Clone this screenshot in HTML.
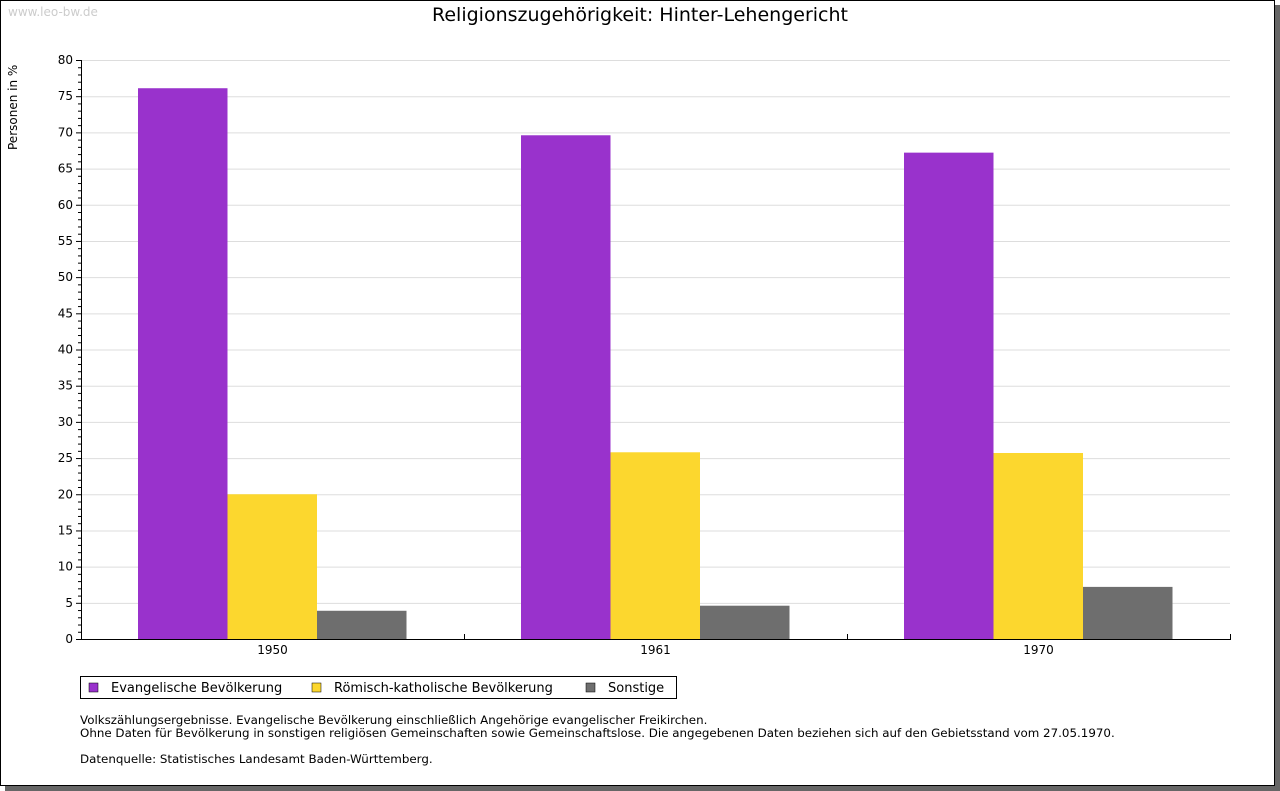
<!DOCTYPE html>
<html><head><meta charset="utf-8"><style>
body{margin:0;width:1280px;height:791px;overflow:hidden;background:#fff;font-family:"DejaVu Sans","Liberation Sans",sans-serif}
</style></head><body>
<svg width="1280" height="791" style="position:absolute;left:0;top:0">
<rect x="5" y="5" width="1275" height="786" fill="#666"/>
<rect x="0.5" y="0.5" width="1274" height="785" fill="#fff" stroke="#000"/>
<text x="8" y="16" font-size="12" fill="#ccc">www.leo-bw.de</text>
<text x="640" y="21" font-size="19" text-anchor="middle">Religionszugehörigkeit: Hinter-Lehengericht</text>
<text transform="translate(17,150) rotate(-90)" font-size="12">Personen in %</text>
<g id="grid"></g><g id="bars"></g><g id="axes"></g>
<g>
<rect x="80.5" y="676.5" width="596" height="22" fill="#fff" stroke="#000"/>
<rect x="89" y="683" width="9" height="9" fill="#9932cc" stroke="#000" stroke-width="0.5"/>
<text x="111" y="692" font-size="13">Evangelische Bevölkerung</text>
<rect x="312" y="683" width="9" height="9" fill="#fcd72e" stroke="#000" stroke-width="0.5"/>
<text x="334" y="692" font-size="13">Römisch-katholische Bevölkerung</text>
<rect x="586" y="683" width="9" height="9" fill="#6e6e6e" stroke="#000" stroke-width="0.5"/>
<text x="608" y="692" font-size="13">Sonstige</text>
</g>
<g font-size="11.86">
<text x="80" y="724">Volkszählungsergebnisse. Evangelische Bevölkerung einschließlich Angehörige evangelischer Freikirchen.</text>
<text x="80" y="737">Ohne Daten für Bevölkerung in sonstigen religiösen Gemeinschaften sowie Gemeinschaftslose. Die angegebenen Daten beziehen sich auf den Gebietsstand vom 27.05.1970.</text>
<text x="80" y="763">Datenquelle: Statistisches Landesamt Baden-Württemberg.</text>
</g>
</svg>
<script>
const categories=["1950","1961","1970"];
const evangelisch=[76.1,69.6,67.2];
const katholisch=[20.0,25.8,25.7];
const sonstige=[3.9,4.6,7.2];
const yTicks=[0,5,10,15,20,25,30,35,40,45,50,55,60,65,70,75,80];
const NS="http://www.w3.org/2000/svg";
const X0=81,X1=1230,Y0=639,Y1=60,YMAX=80;
const y=v=>Y0-(v/YMAX)*(Y0-Y1);
const gw=(X1-X0)/categories.length;
function mk(t,a,p){const e=document.createElementNS(NS,t);for(const k in a)e.setAttribute(k,a[k]);p.appendChild(e);return e;}
const grid=document.getElementById('grid'),bars=document.getElementById('bars'),axes=document.getElementById('axes');
yTicks.forEach(v=>{
 if(v>0){const l=mk('line',{x1:X0,x2:X1,y1:y(v)+.5,y2:y(v)+.5,stroke:'#ddd'},grid);
 
 }
 const t=mk('text',{x:X0-8,y:y(v)+4,'font-size':12,'text-anchor':'end'},axes);t.textContent=v;
 
 
 mk('line',{x1:X0-5,x2:X0,y1:y(v)+.5,y2:y(v)+.5,stroke:'#000'},axes);
});
for(let v=1;v<YMAX;v++){if(v%5)mk('line',{x1:X0-3,x2:X0,y1:y(v)+.5,y2:y(v)+.5,stroke:'#000'},axes);}
mk('line',{x1:X0+.5,x2:X0+.5,y1:Y1,y2:Y0,stroke:'#000'},axes);
mk('line',{x1:X0,x2:X1,y1:Y0+.5,y2:Y0+.5,stroke:'#000'},axes);
for(let i=1;i<=categories.length;i++){const x=Math.round(X0+gw*i)+.5;mk('line',{x1:x,x2:x,y1:Y0-5,y2:Y0+1,stroke:'#000'},axes);}
const series=[[evangelisch,'#9932cc','evangelisch'],[katholisch,'#fcd72e','katholisch'],[sonstige,'#6e6e6e','sonstige']];
const bw=89.5,off=57;
categories.forEach((c,i)=>{
 const gx=X0+gw*i;
 series.forEach((s,j)=>{
  const r=mk('rect',{x:gx+off+bw*j,y:y(s[0][i]),width:bw,height:Y0-y(s[0][i]),fill:s[1]},bars);
  
  
 });
 const t=mk('text',{x:gx+gw/2,y:Y0+15,'font-size':12,'text-anchor':'middle'},axes);t.textContent=c;
 
 
});
</script>
</body></html>
